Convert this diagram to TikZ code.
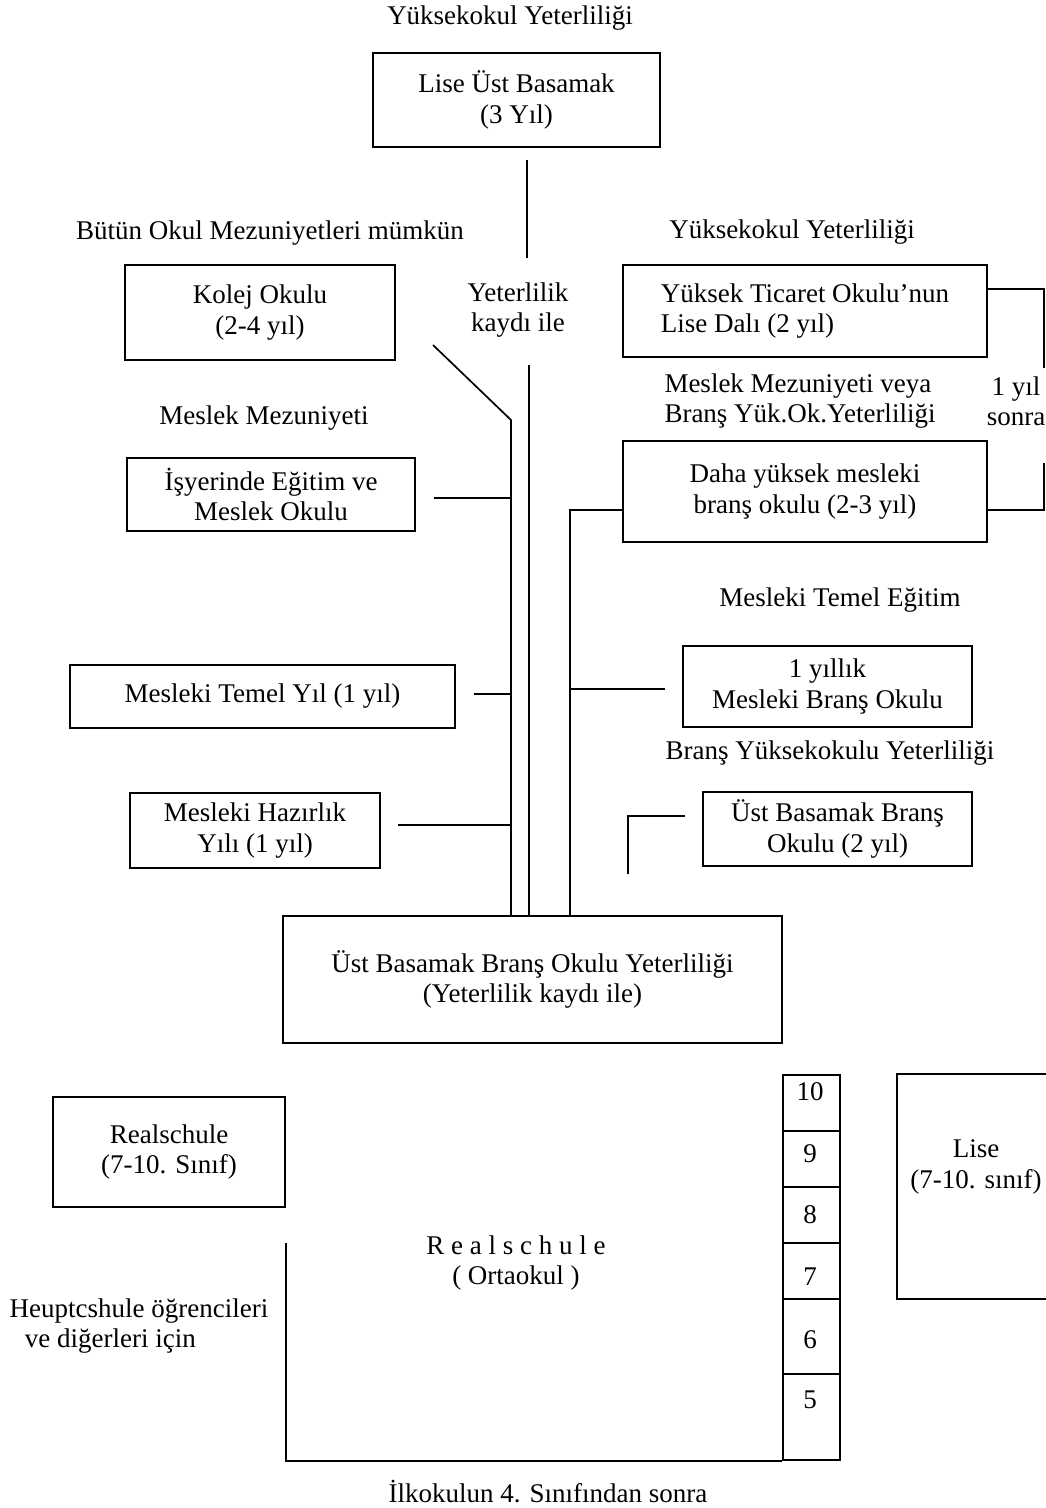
\documentclass[tikz,border=0pt]{standalone}
\usepackage{fontspec}
\setmainfont{Liberation Serif}

\begin{document}
\begin{tikzpicture}[x=0.025cm, y=-0.025cm, every node/.style={font=\fontsize{19.2}{21.6}\selectfont}]
    % Styles
    \tikzstyle{box} = [rectangle, draw=black, line width=1.2pt, inner sep=0pt, align=center]
    \tikzstyle{line} = [draw=black, line width=1.2pt]
    \tikzstyle{caption} = [align=center, inner sep=1pt]
    \tikzstyle{grade} = [inner sep=0pt]
    \tikzset{wh/.style 2 args={minimum width=#1*0.025cm, minimum height=#2*0.025cm}}

    \useasboundingbox (0,0) rectangle (1046,1508);

    % Captions
    \node[caption] (cYuk) at (510,18) {Yüksekokul Yeterliliği};
    \node[caption] (cButun) at (270,233) {Bütün Okul Mezuniyetleri mümkün};
    \node[caption] (cYuk2) at (792,232) {Yüksekokul Yeterliliği};
    \node[caption] (cKayit) at (518,310) {Yeterlilik\\kaydı ile};
    \node[caption] (cMeslek) at (264,418) {Meslek Mezuniyeti};
    \node[caption, align=left] (cVeya) at (800,401) {Meslek Mezuniyeti veya\\Branş Yük.Ok.Yeterliliği};
    \node[caption] (cSonra) at (1016,401) {1 yıl\\sonra};
    \node[caption] (cTemel) at (840,600) {Mesleki Temel Eğitim};
    \node[caption] (cBrans) at (830,753) {Branş Yüksekokulu Yeterliliği};
    \node[caption, align=left, anchor=west] (cHeupt) at (8,1326) {Heuptcshule öğrencileri\\\hspace*{0.38cm}ve diğerleri için};
    \node[caption] (cIlk) at (548,1492) {İlkokulun 4. Sınıfından sonra};

    % Boxes
    \node[box, wh={287}{94}] (lise) at (516.5,100) {Lise Üst Basamak\\(3 Yıl)};
    \node[box, wh={270}{95}] (kolej) at (260,312.5) {Kolej Okulu\\(2-4 yıl)};
    \node[box, wh={364}{92}, align=left] (ticaret) at (805,311) {Yüksek Ticaret Okulu’nun\\Lise Dalı (2 yıl)};
    \node[box, wh={288}{73}] (isyeri) at (271,494.5) {İşyerinde Eğitim ve\\Meslek Okulu};
    \node[box, wh={364}{101}] (dahay) at (805,491.5) {Daha yüksek mesleki\\branş okulu (2-3 yıl)};
    \node[box, wh={385}{63}] (temelyil) at (262.5,696.5) {Mesleki Temel Yıl (1 yıl)};
    \node[box, wh={289}{81}] (yillik) at (827.5,686.5) {1 yıllık\\Mesleki Branş Okulu};
    \node[box, wh={250}{75}] (hazirlik) at (255,830.5) {Mesleki Hazırlık\\Yılı (1 yıl)};
    \node[box, wh={269}{74}] (ustbrans) at (837.5,829) {Üst Basamak Branş\\Okulu (2 yıl)};
    \node[box, wh={499}{127}] (ubk) at (532.5,979.5) {Üst Basamak Branş Okulu Yeterliliği\\(Yeterlilik kaydı ile)};
    \node[box, wh={232}{110}] (realbox) at (169,1152) {Realschule\\(7-10. Sınıf)};
    \node[box, wh={183}{225}] (lisebox) at (988.5,1186.5) {};
    \node[caption] (lisetxt) at (976,1167) {Lise\\(7-10. sınıf)};
    \node[caption] (realtxt) at (516,1263) {R e a l s c h u l e\\( Ortaokul )};

    % Grades 5-10
    \node[box, wh={57}{385}] (grades) at (811.5,1267.5) {};
    \foreach \y in {1131,1187,1243,1299,1374}
        \draw[line] (grades.west |- 0,\y) -- (grades.east |- 0,\y);
    \foreach \g/\y in {10/1092, 9/1154, 8/1215, 7/1277, 6/1340, 5/1400}
        \node[grade] (g\g) at (810,\y) {\g};

    % Coordinates
    \coordinate (mTop) at (527,160);
    \coordinate (mMid) at (527,258);
    \coordinate (mLow) at (529,365);
    \coordinate (kTip) at (433,345);
    \coordinate (lk) at (511,420);
    \coordinate (rk) at (570,510);
    \coordinate (tr) at (1044,289);
    \coordinate (trEnd) at (1044,368);
    \coordinate (drTop) at (1044,463);
    \coordinate (bIs) at (434,498);
    \coordinate (bTemel) at (474,694);
    \coordinate (bHaz) at (398,825);
    \coordinate (bYil) at (665,689);
    \coordinate (bUst) at (685,816);
    \coordinate (bUstEnd) at (628,874);
    \coordinate (rs) at (286,1243);

    % Lines
    \draw[line] (mTop) -- (mMid);
    \draw[line] (mLow) -- (mLow |- ubk.north);
    \draw[line] (kTip) -- (lk) -- (lk |- ubk.north);
    \draw[line] (rk -| dahay.west) -- (rk) -- (rk |- ubk.north);
    \draw[line] (tr -| ticaret.east) -- (tr) -- (trEnd);
    \draw[line] (drTop) |- (rk -| dahay.east);
    \draw[line] (bIs) -- (bIs -| lk);
    \draw[line] (bTemel) -- (bTemel -| lk);
    \draw[line] (bHaz) -- (bHaz -| lk);
    \draw[line] (bYil) -- (bYil -| rk);
    \draw[line] (bUst) -| (bUstEnd);
    \draw[line] (rs) |- (grades.south west);
\end{tikzpicture}
\end{document}
